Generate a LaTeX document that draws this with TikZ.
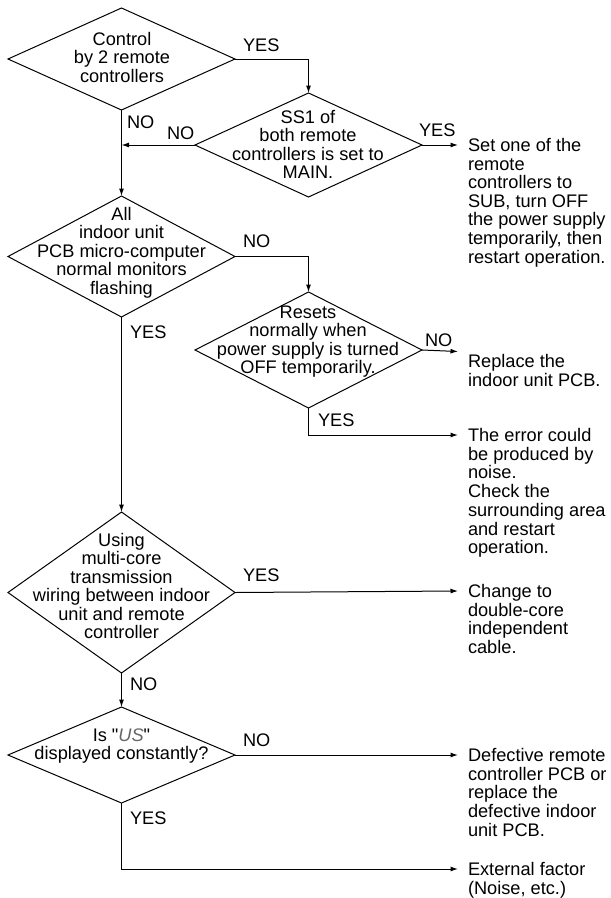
\documentclass[tikz,border=0pt]{standalone}
\usepackage{fontspec}
\setmainfont{Liberation Sans}
% same face without TeX ligature mapping, so " stays a straight quote
\newfontfamily\plainquote{Liberation Sans}
\usetikzlibrary{shapes.geometric,arrows.meta}
\newcommand{\sq}{{\plainquote"}}
\begin{document}
\begin{tikzpicture}[x=1pt,y=-1pt,
  every node/.style={inner sep=0pt,outer sep=0pt,font=\fontsize{18.2}{18.5}\selectfont},
  decision/.style 2 args={draw,diamond,line width=1pt,minimum width=#1pt,minimum height=#2pt},
  question/.style={align=center},
  lbl/.style={anchor=base west},
  outcome/.style={anchor=base west},
  flow/.style={line width=1pt},
  arr/.style={flow,-{Latex[length=7.5pt,width=5pt]}}]
\useasboundingbox (0,0) rectangle (611,898);

% decision diamonds
\node[decision={227}{102}] (d1) at (121.5,59) {};
\node[decision={227}{104}] (d2) at (308.5,145) {};
\node[decision={227}{121}] (d3) at (121.5,256.5) {};
\node[decision={227}{116}] (d4) at (308.5,350) {};
\node[decision={227}{161}] (d5) at (121.5,592.5) {};
\node[decision={227}{96}]  (d6) at (121.5,755) {};

% questions inside the diamonds
\node[question] (q1) at (122,57) {Control\\by 2 remote\\controllers};
\node[question] (q2) at (308,144.5) {SS1 of\\both remote\\controllers is set to\\MAIN.};
\node[question] (q3) at (121.5,252.5) {All\\indoor unit\\PCB micro-computer\\normal monitors\\flashing};
\node[question] (q4) at (308,341.5) {Resets\\normally when\\power supply is turned\\OFF temporarily.};
\node[question] (q5) at (121.5,586) {Using\\multi-core\\transmission\\wiring between indoor\\unit and remote\\controller};
\node[question] (q6) at (121.5,746) {Is \sq{\itshape\color{black!60}US}\sq\\displayed constantly?};

% arrow ends in front of the outcomes
\coordinate (t1) at (458,145);
\coordinate (t2) at (458,351.5);
\coordinate (t3) at (458,435);
\coordinate (t4) at (458,591);
\coordinate (t5) at (458,755);
\coordinate (t6) at (458,869);

% outcomes
\node[outcome] (r1) at (468,151.5) {\begin{tabular}[t]{@{}l@{}}Set one of the\\remote\\controllers to\\SUB, turn OFF\\the power supply\\temporarily, then\\restart operation.\end{tabular}};
\node[outcome] (r2) at (468,367.5) {\begin{tabular}[t]{@{}l@{}}Replace the\\indoor unit PCB.\end{tabular}};
\node[outcome] (r3) at (468,441.5) {\begin{tabular}[t]{@{}l@{}}The error could\\be produced by\\noise.\\Check the\\surrounding area\\and restart\\operation.\end{tabular}};
\node[outcome] (r4) at (468,597.5) {\begin{tabular}[t]{@{}l@{}}Change to\\double-core\\independent\\cable.\end{tabular}};
\node[outcome] (r5) at (468,761.5) {\begin{tabular}[t]{@{}l@{}}Defective remote\\controller PCB or\\replace the\\defective indoor\\unit PCB.\end{tabular}};
\node[outcome] (r6) at (468,875.5) {\begin{tabular}[t]{@{}l@{}}External factor\\(Noise, etc.)\end{tabular}};

% connectors
\draw[arr] (d1.east) -| (d2.north);
\draw[arr] (d1.south) -- (d3.north);
\draw[arr] (d2.west) -- (d2.west -| d1.south);
\draw[arr] (d2.east) -- (t1);
\draw[arr] (d3.east) -| (d4.north);
\draw[arr] (d3.south) -- (d5.north);
\draw[arr] (d4.east) -- (t2);
\draw[arr] (d4.south) |- (t3);
\draw[arr] (d5.east) -- (t4);
\draw[arr] (d5.south) -- (d6.north);
\draw[arr] (d6.east) -- (t5);
\draw[arr] (d6.south) |- (t6);

% branch labels
\node[lbl] (y1) at (243,51.5) {YES};
\node[lbl] (n1) at (127,128.5) {NO};
\node[lbl] (n2) at (167,139.5) {NO};
\node[lbl] (y2) at (419,136.5) {YES};
\node[lbl] (n3) at (243,247.5) {NO};
\node[lbl] (y3) at (130,338.5) {YES};
\node[lbl] (n4) at (425,346.5) {NO};
\node[lbl] (y4) at (318,426.5) {YES};
\node[lbl] (y5) at (243,581.5) {YES};
\node[lbl] (n5) at (130,690.5) {NO};
\node[lbl] (n6) at (243,746.5) {NO};
\node[lbl] (y6) at (130,824.5) {YES};
\end{tikzpicture}
\end{document}
